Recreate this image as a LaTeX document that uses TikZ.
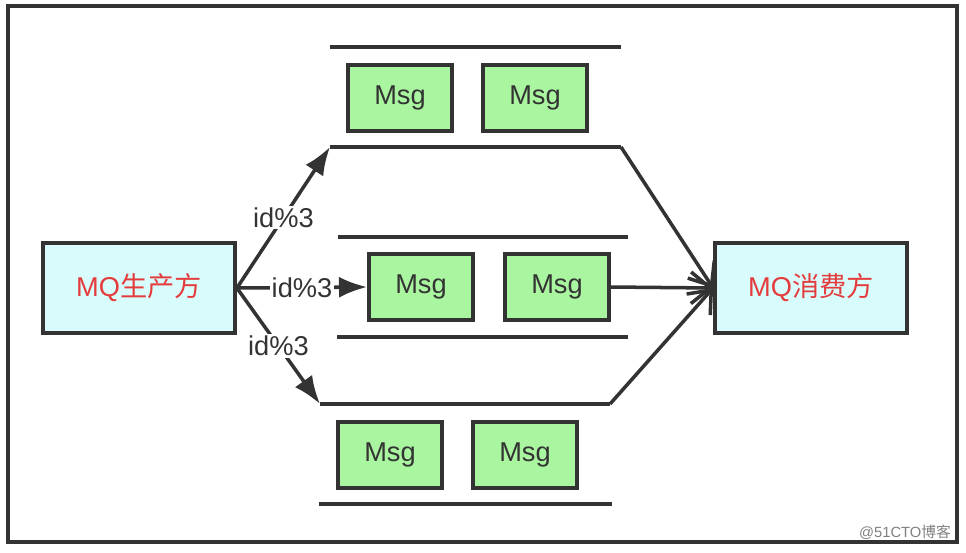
\documentclass[tikz,border=0pt]{standalone}
\usepackage{fontspec}
\setmainfont{Liberation Sans}
\newfontfamily\cjk{Noto Sans CJK SC}
\usepackage{tikz}
\usetikzlibrary{arrows.meta}
\definecolor{ink}{RGB}{51,51,51}
\definecolor{msggreen}{RGB}{170,246,160}
\definecolor{mqcyan}{RGB}{216,252,252}
\definecolor{mqred}{RGB}{228,60,60}

\begin{document}
\begin{tikzpicture}[x=0.02cm, y=-0.02cm,
			every node/.style={font=\fontsize{15.5}{18}\selectfont, text=ink},
			mq/.style={rectangle, draw=ink, line width=2.2pt, fill=mqcyan, text=mqred, minimum width=3.84cm, minimum height=1.8cm},
			msg/.style={rectangle, draw=ink, line width=2.2pt, fill=msggreen, minimum width=2.08cm, minimum height=1.32cm},
			qline/.style={ink, line width=2.2pt},
			send/.style={ink, line width=2pt, -{Latex[length=16pt, width=12pt]}},
			recv/.style={ink, line width=2pt, -{Straight Barb[length=11pt, width=18pt]}},
			lbl/.style={fill=white, inner sep=1pt}
		]
		\useasboundingbox (0,0) rectangle (966,552);
		\draw[ink, line width=2.2pt] (8,6) rectangle (957,542);

		\node[mq] (prod) at (139,288) {MQ{\cjk 生产方}};
		\node[mq] (cons) at (811,288) {MQ{\cjk 消费方}};

		% queue 1
		\coordinate (q1ta) at (330,47);  \coordinate (q1tb) at (621,47);
		\coordinate (q1ba) at (330,147); \coordinate (q1bb) at (621,147);
		\node[msg] (m1a) at (400,98) {Msg};
		\node[msg] (m1b) at (535,98) {Msg};

		% queue 2
		\coordinate (q2ta) at (338,237); \coordinate (q2tb) at (628,237);
		\coordinate (q2ba) at (337,337); \coordinate (q2bb) at (628,337);
		\node[msg] (m2a) at (421,287) {Msg};
		\node[msg] (m2b) at (557,287) {Msg};

		% queue 3
		\coordinate (q3ta) at (320,404); \coordinate (q3tb) at (610,404);
		\coordinate (q3ba) at (319,504); \coordinate (q3bb) at (612,504);
		\node[msg] (m3a) at (390,455) {Msg};
		\node[msg] (m3b) at (525,455) {Msg};

		\draw[qline] (q1ta)--(q1tb);
		\draw[qline] (q1ba)--(q1bb);
		\draw[qline] (q2ta)--(q2tb);
		\draw[qline] (q2ba)--(q2bb);
		\draw[qline] (q3ta)--(q3tb);
		\draw[qline] (q3ba)--(q3bb);

		% producer -> queues
		\draw[send] (prod.east)--(q1ba) node[lbl, pos=0.5] (l1) {id\%3};
		\draw[send] (prod.east)--(m2a.west) node[lbl, pos=0.5] (l2) {id\%3};
		\draw[send] (prod.east)--(q3ta) node[lbl, pos=0.5] (l3) {id\%3};

		% queues -> consumer
		\draw[recv] (q1bb)--(cons.west);
		\draw[recv] (m2b.east)--(cons.west);
		\draw[recv] (q3tb)--(cons.west);

		\node[font=\fontsize{8.4}{10}\selectfont, text=gray, inner sep=0pt] (wm) at (905,532) {@51CTO{\cjk 博客}};
	\end{tikzpicture}
\end{document}
